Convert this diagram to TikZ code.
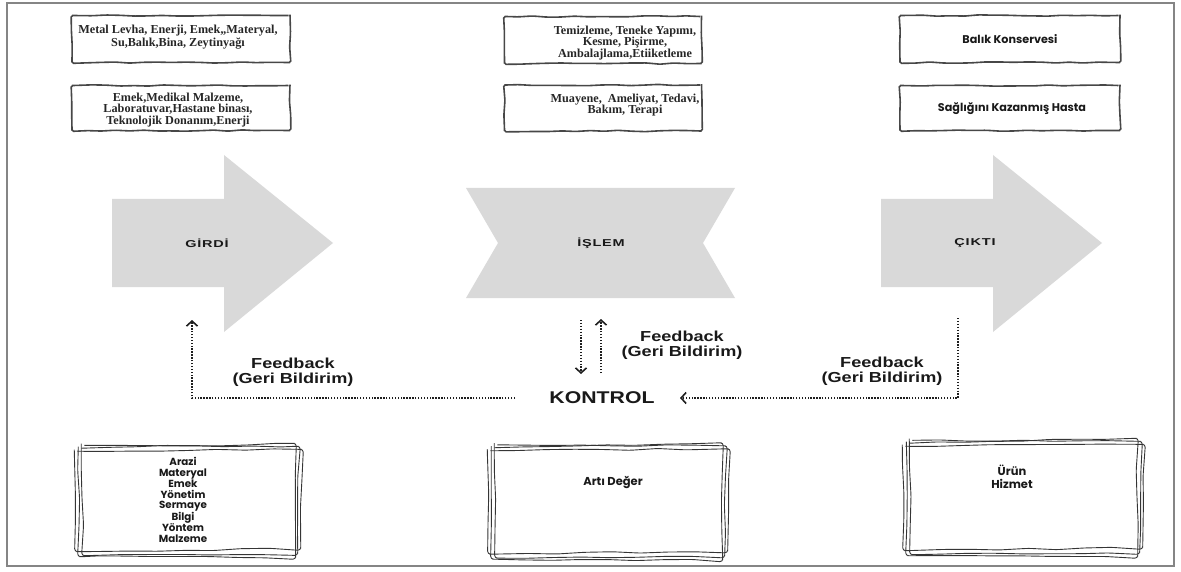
\documentclass[tikz,border=0pt]{standalone}
\usepackage{fontspec}
\setmainfont{Liberation Serif}
\newfontfamily\fbfont[FakeStretch=1.25]{Liberation Sans}
\newfontfamily\labfont[FakeStretch=1.45,LetterSpace=8]{Liberation Sans}
\newfontfamily\popfont{Poppins}
\usetikzlibrary{decorations.pathmorphing,arrows.meta,calc}

\definecolor{shapegray}{HTML}{D9D9D9}
\definecolor{framegray}{HTML}{858585}
\definecolor{boxline}{HTML}{474747}
\definecolor{inkline}{HTML}{1E1E1E}

\tikzset{
  topbox/.style={draw=boxline, line width=1.6pt, decorate,
    decoration={random steps, segment length=14pt, amplitude=0.7pt},
    rounded corners=1.5pt, inner sep=0pt},
  serifbox/.style={font=\fontsize{12.2}{13}\selectfont\bfseries, align=center, text=black!85},
  sansbox/.style={font=\popfont\fontsize{11.2}{13}\selectfont\bfseries, align=center, text=black!90},
  listtxt/.style={font=\popfont\fontsize{10.3}{10.9}\selectfont\bfseries, align=center, text=black!90},
  bigshape/.style={fill=shapegray, draw=none},
  shapelabel/.style={font=\labfont\fontsize{10}{11}\selectfont\bfseries, text=black!90},
  fbtext/.style={font=\fbfont\fontsize{14.5}{15}\selectfont\bfseries, align=center, text=black!90},
  fbline/.style={draw=inkline, line width=1.7pt, dash pattern=on 1.4pt off 1.5pt},
  fbtip/.style={-{Straight Barb[length=5pt,width=11pt,line width=1.6pt]}},
  sketchnode/.style={inner sep=0pt},
  sketchline/.style={draw=inkline!90, line width=0.9pt, decorate,
    decoration={random steps, segment length=28pt, amplitude=0.9pt},
    rounded corners=3pt}
}

% three overlapping hand-drawn loops around a node
\newcommand\sketchframe[1]{%
  \draw[sketchline] ($(#1.north west)+(7,2)$) -- ($(#1.north east)+(-1,3)$)
     -- ($(#1.south east)+(-2,-3)$) -- ($(#1.south west)+(9,-1)$) -- cycle;
  \draw[sketchline] ($(#1.north west)+(0,8)$) -- ($(#1.north east)+(2,6)$)
     -- ($(#1.south east)+(1,-8)$) -- ($(#1.south west)+(2,-5)$) -- cycle;
  \draw[sketchline] ($(#1.north west)+(4,5)$) -- ($(#1.north east)+(-5,0)$)
     -- ($(#1.south east)+(-4,1)$) -- ($(#1.south west)+(5,0)$) -- cycle;
}

\begin{document}
\begin{tikzpicture}[x=1pt,y=-1pt]
\pgfmathsetseed{11}
\useasboundingbox (0,0) rectangle (1181,572);
\draw[framegray, line width=2pt] (7,3) rectangle (1174,566);

% ---- top description boxes ----
\node[topbox, minimum width=218pt, minimum height=47pt] (inA) at (181,39) {};
\node[topbox, minimum width=218pt, minimum height=45pt] (inB) at (181,108) {};
\node[topbox, minimum width=197pt, minimum height=47pt] (prA) at (603,40) {};
\node[topbox, minimum width=197pt, minimum height=46pt] (prB) at (603,108) {};
\node[topbox, minimum width=220pt, minimum height=47pt] (outA) at (1010,39) {};
\node[topbox, minimum width=220pt, minimum height=45pt] (outB) at (1010,108) {};

\node[serifbox] (inAt) at (178,37) {Metal Levha, Enerji, Emek,,Materyal,\\Su,Balık,Bina, Zeytinyağı};
\node[serifbox, font=\fontsize{12.2}{11.8}\selectfont\bfseries] (inBt) at (178,110) {Emek,Medikal Malzeme,\\Laboratuvar,Hastane binası,\\Teknolojik Donanım,Enerji};
\node[serifbox, font=\fontsize{12.2}{11.8}\selectfont\bfseries] (prAt) at (625,43) {Temizleme, Teneke Yapımı,\\Kesme, Pişirme,\\Ambalajlama,Etiiketleme};
\node[serifbox, font=\fontsize{12.2}{11.8}\selectfont\bfseries] (prBt) at (625,105) {Muayene,\ \ Ameliyat, Tedavi,\\Bakım, Terapi};
\node[sansbox] (outAt) at (1010,39) {Balık Konservesi};
\node[sansbox] (outBt) at (1012,109) {Sağlığını Kazanmış Hasta};

% ---- process shapes ----
\path[bigshape] (112,199) -- (224,199) -- (224,155) -- (333,243) -- (224,332)
  -- (224,287) -- (112,287) -- cycle;
\path[bigshape] (466,188) -- (735,188) -- (703,243) -- (735,298) -- (466,298)
  -- (498,243) -- cycle;
\path[bigshape] (881,199) -- (993,199) -- (993,155) -- (1102,243) -- (993,332)
  -- (993,287) -- (881,287) -- cycle;
\node[shapelabel] (girdi) at (207,243) {GİRDİ};
\node[shapelabel] (islem) at (601,243) {İŞLEM};
\node[shapelabel] (cikti) at (975,243) {ÇIKTI};

% ---- control and feedback loops ----
\node[font=\fbfont\fontsize{17}{18}\selectfont\bfseries, text=black!90] (kontrol) at (602,398) {KONTROL};

\coordinate (girdiFb) at (192,320);
\coordinate (kontrolW) at (515,398);
\coordinate (islemOut) at (581,320);
\coordinate (kontrolInA) at (581,374);
\coordinate (kontrolOutA) at (601,373);
\coordinate (islemIn) at (601,319);
\coordinate (ciktiFb) at (958,318);
\coordinate (kontrolE) at (680,398);

\draw[fbline, fbtip] (kontrolW) -| (girdiFb);
\draw[fbline, fbtip] (islemOut) -- (kontrolInA);
\draw[fbline, fbtip] (kontrolOutA) -- (islemIn);
\draw[fbline, fbtip] (ciktiFb) |- (kontrolE);

\node[fbtext] (fbL) at (293,372.5) {Feedback\\(Geri Bildirim)};
\node[fbtext] (fbM) at (682,345.5) {Feedback\\(Geri Bildirim)};
\node[fbtext] (fbR) at (882,371.5) {Feedback\\(Geri Bildirim)};

% ---- resource / result boxes ----
\node[sketchnode, minimum width=225pt, minimum height=113pt] (res) at (187,500) {};
\node[sketchnode, minimum width=239pt, minimum height=116pt] (add) at (607,501) {};
\node[sketchnode, minimum width=239pt, minimum height=117pt] (prod) at (1022,497) {};
\sketchframe{res}
\sketchframe{add}
\sketchframe{prod}

\node[listtxt] (resT) at (183,500) {Arazi\\Materyal\\Emek\\Yönetim\\Sermaye\\Bilgi\\Yöntem\\Malzeme};
\node[sansbox, font=\popfont\fontsize{11.5}{13}\selectfont\bfseries] (addT) at (613,483) {Artı Değer};
\node[sansbox, font=\popfont\fontsize{11.5}{13}\selectfont\bfseries] (prodT) at (1012,476.5) {Ürün\\Hizmet};
\end{tikzpicture}
\end{document}
